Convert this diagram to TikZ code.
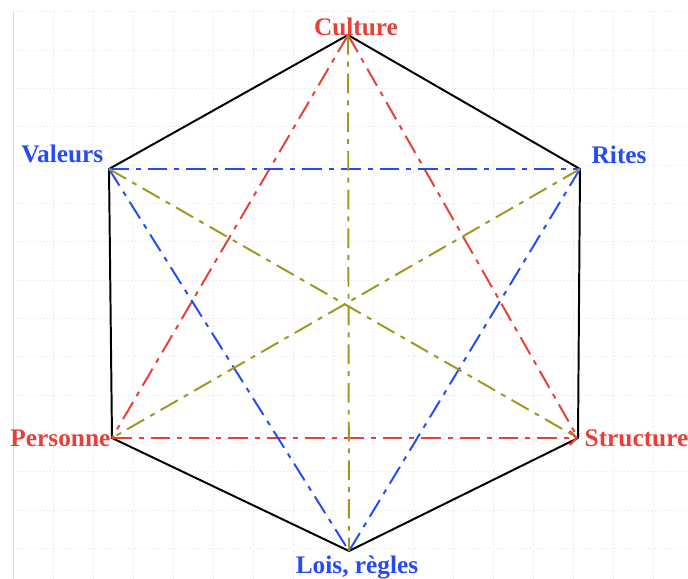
\documentclass[tikz,border=0pt]{standalone}
\usepackage{fontspec}
\setmainfont{Liberation Serif}
\usetikzlibrary{arrows.meta,calc}
\definecolor{rouge}{RGB}{232,64,56}
\definecolor{bleu}{RGB}{36,76,246}
\definecolor{olive}{RGB}{158,152,30}
\tikzset{
  lbl/.style={font=\fontsize{18}{20}\selectfont\bfseries, inner sep=1pt},
  dd/.style={line width=1.4pt, dash pattern=on 14pt off 5pt on 3.5pt off 5pt},
}
\begin{document}
\begin{tikzpicture}[x=0.025cm,y=-0.025cm]
\useasboundingbox (0,0) rectangle (688,578);
\draw[gray!22,dotted,xstep=1cm,ystep=0.958cm,shift={(13.3,11.7)}] (0,0) grid (675,567);
\draw[gray!30] (13.3,11.7)--(13.3,578);
% sommets
\coordinate (c) at (348,35);
\coordinate (v) at (109,169);
\coordinate (r) at (580,169);
\coordinate (p) at (112,438);
\coordinate (s) at (578,438);
\coordinate (l) at (349,551);
% hexagone
\draw[line width=1.4pt] (c)--(r)--(s)--(l)--(p)--(v)--cycle;
% triangles
\draw[dd,rouge] (c)--(p);
\draw[dd,rouge] (c)--(s);
\draw[dd,rouge,-{Straight Barb[length=5pt]}] (p)--(s);
\draw[dd,bleu] (v)--(r);
\draw[dd,bleu] (v)--(l);
\draw[dd,bleu] (r)--(l);
\draw[dd,olive] (c)--(l);
\draw[dd,olive] (v)--(s);
\draw[dd,olive] (r)--(p);
% etiquettes
\node[lbl,rouge,anchor=south] (nc) at ($(c)+(8,2)$) {Culture};
\node[lbl,bleu,anchor=south east] (nv) at ($(v)+(-4,-4)$) {Valeurs};
\node[lbl,bleu,anchor=south west] (nr) at ($(r)+(10,-4)$) {Rites};
\node[lbl,rouge,anchor=east] (np) at (p) {Personne};
\node[lbl,rouge,anchor=west] (ns) at ($(s)+(5,0)$) {Structure};
\node[lbl,bleu,anchor=north] (nl) at ($(l)+(8,3)$) {Lois, règles};
\end{tikzpicture}
\end{document}
